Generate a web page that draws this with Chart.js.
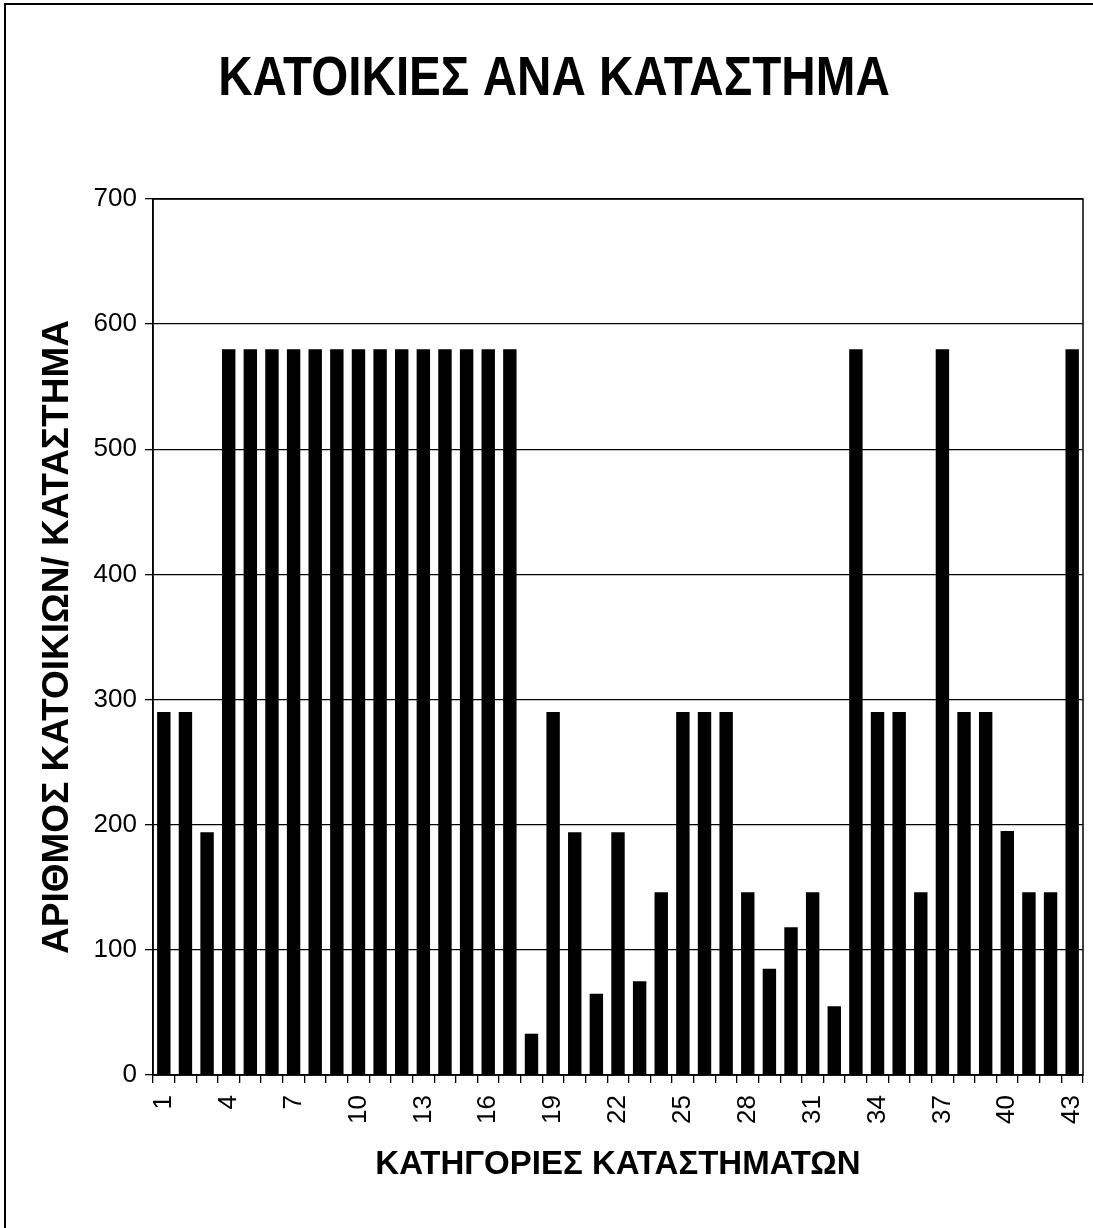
<!DOCTYPE html>
<html>
<head>
<meta charset="utf-8">
<script src="https://cdn.jsdelivr.net/npm/chart.js@4.4.0/dist/chart.umd.min.js"></script>
<style>
  html, body { margin: 0; padding: 0; background: #fff; }
  #wrap { width: 1093px; height: 1228px; position: relative; }
</style>
</head>
<body>
<div id="wrap"><canvas id="chart" width="1093" height="1228"></canvas></div>
<script>
// store categories 1..43
const categories = ["1","2","3","4","5","6","7","8","9","10","11","12","13","14","15","16","17","18","19","20","21","22","23","24","25","26","27","28","29","30","31","32","33","34","35","36","37","38","39","40","41","42","43"];
const households = [290,290,194,580,580,580,580,580,580,580,580,580,580,580,580,580,580,33,290,194,65,194,75,146,290,290,290,146,85,118,146,55,580,290,290,146,580,290,290,195,146,146,580];
const yTicks = [0,100,200,300,400,500,600,700];

const titleText = "ΚΑΤΟΙΚΙΕΣ ΑΝΑ ΚΑΤΑΣΤΗΜΑ";
const xTitle = "ΚΑΤΗΓΟΡΙΕΣ ΚΑΤΑΣΤΗΜΑΤΩΝ";
const yTitle = "ΑΡΙΘΜΟΣ ΚΑΤΟΙΚΙΩΝ/ ΚΑΤΑΣΤΗΜΑ";

const FONT = "'Liberation Sans', Arial, sans-serif";

// white page + outer frame (only left and top edge are inside the picture)
const framePlugin = {
  id: "frame",
  beforeDraw(chart) {
    const c = chart.ctx;
    c.save();
    c.fillStyle = "#fff";
    c.fillRect(0, 0, chart.width, chart.height);
    c.strokeStyle = "#000";
    c.lineWidth = 2;
    c.strokeRect(5, 4, chart.width + 20, chart.height + 20);
    c.restore();
  },
  afterDraw(chart) {
    const a = chart.chartArea, c = chart.ctx;
    c.save();
    c.strokeStyle = "#000";
    c.lineWidth = 1.5;
    c.strokeRect(a.left, a.top, a.right - a.left, a.bottom - a.top);
    // narrow bold title, like the original's condensed face
    c.font = "bold 56px " + FONT;
    c.fillStyle = "#000";
    c.textAlign = "center";
    c.textBaseline = "alphabetic";
    c.translate(554, 95);
    c.scale(0.85, 1);
    c.fillText(titleText, 0, 0);
    c.restore();
  }
};

new Chart(document.getElementById("chart"), {
  type: "bar",
  data: {
    labels: categories,
    datasets: [{
      data: households,
      backgroundColor: "#000",
      borderWidth: 0,
      barPercentage: 0.62,
      categoryPercentage: 1
    }]
  },
  options: {
    responsive: false,
    animation: false,
    layout: { padding: { left: 0, right: 10, top: 199, bottom: 0 } },
    plugins: {
      legend: { display: false },
      tooltip: { enabled: false },
      title: { display: false }
    },
    scales: {
      x: {
        afterFit: (s) => { s.height = 153; s.paddingLeft = 0; s.paddingRight = 0; },
        grid: { display: true, drawOnChartArea: false, offset: true, tickLength: 8, color: "#000", lineWidth: 1.3 },
        border: { display: true, color: "#000", width: 1.5 },
        ticks: {
          autoSkip: false,
          minRotation: 90,
          maxRotation: 90,
          padding: 12,
          color: "#000",
          font: { family: FONT, size: 26 },
          callback: (v, i) => (i % 3 === 0 ? categories[i] : "")
        },
        title: {
          display: true,
          text: xTitle,
          color: "#000",
          font: { family: FONT, size: 33, weight: "bold" },
          padding: { top: 0, bottom: 43 }
        }
      },
      y: {
        min: 0,
        max: 700,
        afterFit: (s) => { s.width = 153; s.paddingTop = 0; s.paddingBottom = 0; },
        afterBuildTicks: (s) => { s.ticks = yTicks.map(v => ({ value: v })); },
        grid: { color: "#000", lineWidth: 1.3, tickLength: 8, tickColor: "#000" },
        border: { display: true, color: "#000", width: 1.5 },
        ticks: {
          padding: 8,
          color: "#000",
          font: { family: FONT, size: 26 }
        },
        title: {
          display: true,
          text: yTitle,
          color: "#000",
          font: { family: FONT, size: 37, weight: "bold" },
          padding: { top: 36, bottom: 0 }
        }
      }
    }
  },
  plugins: [framePlugin]
});
</script>
</body>
</html>
